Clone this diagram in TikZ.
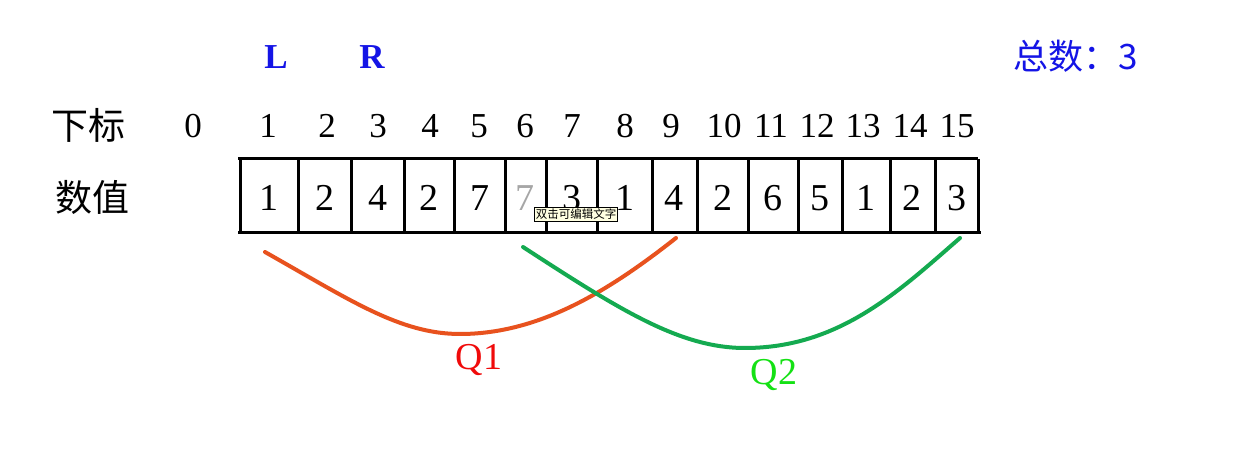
\documentclass[tikz,border=0pt]{standalone}
\usepackage{fontspec}
\setmainfont{Liberation Serif}
\newfontfamily\cjk{Noto Sans CJK SC}
\definecolor{blueL}{RGB}{20,20,230}
\definecolor{qorange}{RGB}{232,82,30}
\definecolor{qgreen}{RGB}{20,170,80}
\definecolor{qlred}{RGB}{240,10,10}
\definecolor{qlgreen}{RGB}{20,225,20}
\definecolor{tipfill}{RGB}{255,255,225}
\begin{document}
\begin{tikzpicture}[x=1pt,y=-1pt,
  idx/.style={font=\fontsize{35}{35}\selectfont, inner sep=0pt},
  val/.style={font=\fontsize{38}{38}\selectfont, inner sep=0pt},
  lab/.style={font=\cjk\fontsize{37}{37}\selectfont, inner sep=0pt},
  ptr/.style={font=\bfseries\fontsize{35}{35}\selectfont, text=blueL, inner sep=0pt},
  cellline/.style={line width=3pt},
  curve/.style={line width=4pt, line cap=round}]
\useasboundingbox (0,0) rectangle (1251,470);
\fill[white] (0,0) rectangle (1251,470);
% labels
\node[lab] (xb) at (88,125) {下标};
\node[lab] (sz) at (92,197) {数值};
\node[ptr] (L) at (276,57) {L};
\node[ptr] (R) at (372,57) {R};
\node[font=\cjk\fontsize{35}{35}\selectfont, text=blueL, inner sep=0pt] (tot) at (1076,56) {总数：3};
% indices
\foreach \i/\x in {0/193,1/268,2/327,3/378,4/430,5/479,6/525,7/572,8/625,9/671,10/724,11/771,12/817,13/863,14/910,15/957}
  \node[idx] (i\i) at (\x,126) {\i};
% cells
\draw[cellline] (238,159) -- (978,159);
\draw[cellline] (238,233) -- (981,233);
\foreach \x in {240,298,351,404,454,505,546,597,652,697,748,798,842,890,935,978}
  \draw[cellline] (\x,159) -- (\x,233);
\foreach \n/\v/\x in {1/1/269,2/2/325,3/4/378,4/2/429,5/7/480,7/3/572,8/1/625,9/4/674,10/2/723,11/6/773,12/5/820,13/1/866,14/2/912,15/3/957}
  \node[val] (v\n) at (\x,198) {\v};
\node[val, text=gray!70] (v6) at (525,198) {7};
% tooltip
\node[draw=black, line width=0.6pt, fill=tipfill, inner sep=1.5pt, font=\cjk\fontsize{11.5}{11.5}\selectfont] (tip) at (576,214) {双击可编辑文字};
% curves
\coordinate (q1a) at (265,252);
\coordinate (q1m) at (460,334);
\coordinate (q1b) at (676,238);
\coordinate (q2a) at (523,247);
\coordinate (q2m) at (745,348);
\coordinate (q2b) at (960,238);
\draw[curve, qorange] (q1a) .. controls (350,300) and (400,334) .. (q1m) .. controls (540,334) and (610,290) .. (q1b);
\draw[curve, qgreen] (q2a) .. controls (620,310) and (680,348) .. (q2m) .. controls (840,348) and (900,290) .. (q2b);
\node[font=\fontsize{38}{38}\selectfont, text=qlred, inner sep=0pt] (Q1) at (479,360) {Q1};
\node[font=\fontsize{38}{38}\selectfont, text=qlgreen, inner sep=0pt] (Q2) at (774,375) {Q2};
\end{tikzpicture}
\end{document}
